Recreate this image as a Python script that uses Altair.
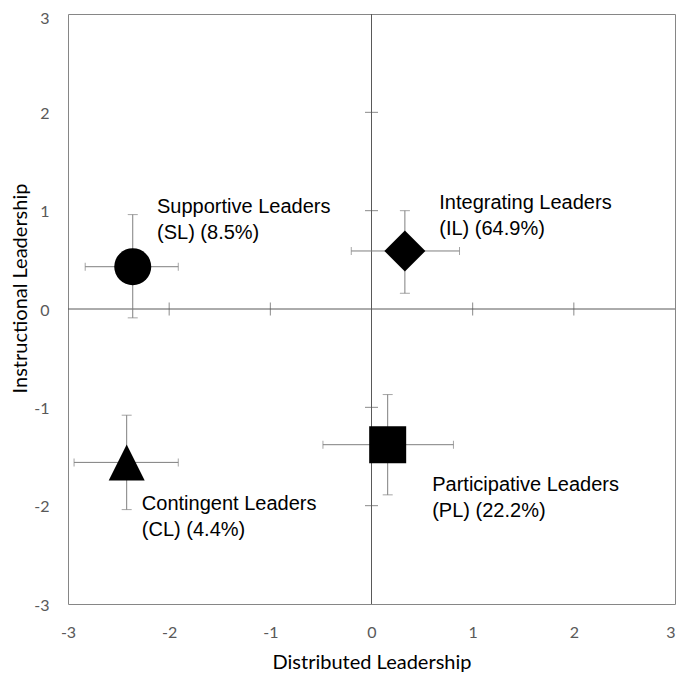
import altair as alt
import pandas as pd

# ---- data ----
groups = ["SL", "IL", "CL", "PL"]
labels = ["Supportive  Leaders\n(SL) (8.5%)",
          "Integrating  Leaders\n(IL) (64.9%)",
          "Contingent  Leaders\n(CL) (4.4%)",
          "Participative  Leaders\n(PL) (22.2%)"]
dist_mean = [-2.36, 0.33, -2.42, 0.16]
dist_low = [-2.83, -0.20, -2.94, -0.48]
dist_high = [-1.91, 0.87, -1.91, 0.81]
instr_mean = [0.43, 0.59, -1.56, -1.38]
instr_low = [-0.09, 0.16, -2.04, -1.89]
instr_high = [0.96, 1.00, -1.08, -0.87]
label_x = [-2.12, 0.67, -2.27, 0.60]
label_y = [0.98, 1.02, -2.04, -1.85]
axis_ticks = [-2, -1, 1, 2]
tick_values = [-3, -2, -1, 0, 1, 2, 3]

df = pd.DataFrame({
    "group": groups, "label": labels,
    "x": dist_mean, "xlo": dist_low, "xhi": dist_high,
    "y": instr_mean, "ylo": instr_low, "yhi": instr_high,
    "lx": label_x, "ly": label_y,
})
ticks_df = pd.DataFrame({"t": axis_ticks, "zero": [0] * len(axis_ticks)})
zero_df = pd.DataFrame({"zero": [0]})

W, H = 607, 590

xscale = alt.Scale(domain=[-3, 3], nice=False, zero=False)
yscale = alt.Scale(domain=[-3, 3], nice=False, zero=False)

xaxis = alt.Axis(values=tick_values, grid=False, domain=False, ticks=False,
                 labelPadding=20, labelFont="Lato", labelFontSize=16,
                 labelColor="#595959", labelFlush=False,
                 labelAlign={"condition": {"test": "datum.value == 3", "value": "right"},
                             "value": "center"},
                 labelExpr="'' + datum.value",
                 title="Distributed Leadership", titleFont="Lato",
                 titleFontSize=20, titleFontWeight="normal", titleColor="#000000",
                 titleY=64, titleBaseline="alphabetic")
yaxis = alt.Axis(values=tick_values, grid=False, domain=False, ticks=False,
                 labelPadding=19, labelFont="Lato", labelFontSize=16,
                 labelColor="#595959", labelFlush=False,
                 labelOffset={"condition": {"test": "datum.value == 3", "value": 4},
                              "value": 1},
                 labelExpr="'' + datum.value",
                 title="Instructional Leadership", titleFont="Lato",
                 titleFontSize=20, titleFontWeight="normal", titleColor="#000000",
                 titleX=-48, titleY=274, titleAngle=270,
                 titleBaseline="middle", titleAlign="center")

def X(f):
    return alt.X(f, type="quantitative", scale=xscale, axis=xaxis)

def Y(f):
    return alt.Y(f, type="quantitative", scale=yscale, axis=yaxis)

axis_color = "#595959"
err_color = "#7f7f7f"

# internal axes through zero
hline = alt.Chart(zero_df).mark_rule(color=axis_color, strokeWidth=1).encode(
    y=Y("zero"), x=alt.value(0), x2=alt.value(W))
vline = alt.Chart(zero_df).mark_rule(color=axis_color, strokeWidth=1).encode(
    x=X("zero"), y=alt.value(0), y2=alt.value(H))
hticks = alt.Chart(ticks_df).mark_tick(color=axis_color, orient="vertical",
                                       size=13, thickness=1).encode(
    x=X("t"), y=Y("zero"))
vticks = alt.Chart(ticks_df).mark_tick(color=axis_color, orient="horizontal",
                                       size=13, thickness=1).encode(
    y=Y("t"), x=X("zero"))

# error bars
xerr = alt.Chart(df).mark_rule(color=err_color, strokeWidth=1).encode(
    x=X("xlo"), x2="xhi", y=Y("y"))
yerr = alt.Chart(df).mark_rule(color=err_color, strokeWidth=1).encode(
    y=Y("ylo"), y2="yhi", x=X("x"))
xcap_lo = alt.Chart(df).mark_tick(color=err_color, orient="vertical", size=8,
                                  thickness=1).encode(x=X("xlo"), y=Y("y"))
xcap_hi = alt.Chart(df).mark_tick(color=err_color, orient="vertical", size=8,
                                  thickness=1).encode(x=X("xhi"), y=Y("y"))
ycap_lo = alt.Chart(df).mark_tick(color=err_color, orient="horizontal", size=10,
                                  thickness=1).encode(y=Y("ylo"), x=X("x"))
ycap_hi = alt.Chart(df).mark_tick(color=err_color, orient="horizontal", size=10,
                                  thickness=1).encode(y=Y("yhi"), x=X("x"))

shape_style = {
    "SL": ("circle", 1369),
    "IL": ("diamond", 1681),
    "CL": ("M0,-1L1,1L-1,1Z", 1296),
    "PL": ("square", 1369),
}
points = []
for g in groups:
    shp, sz = shape_style[g]
    points.append(
        alt.Chart(df[df["group"] == g]).mark_point(
            shape=shp, size=sz, filled=True, color="#000000", opacity=1,
            strokeWidth=0).encode(x=X("x"), y=Y("y"))
    )

texts = alt.Chart(df).mark_text(
    align="left", baseline="alphabetic", lineBreak="\n", lineHeight=26,
    font="Liberation Sans", fontSize=20, color="#000000").encode(
    x=X("lx"), y=Y("ly"), text="label:N")

chart = alt.layer(
    hline, vline, hticks, vticks, xerr, yerr, xcap_lo, xcap_hi, ycap_lo, ycap_hi,
    *points, texts
).properties(
    width=W, height=H, autosize="none",
    padding={"left": 60, "top": 6, "right": 1, "bottom": 69},
    background="#ffffff",
).configure_view(stroke="#868686", strokeWidth=1)

chart.save("out.html", embed_options={"renderer": "svg", "actions": False})
